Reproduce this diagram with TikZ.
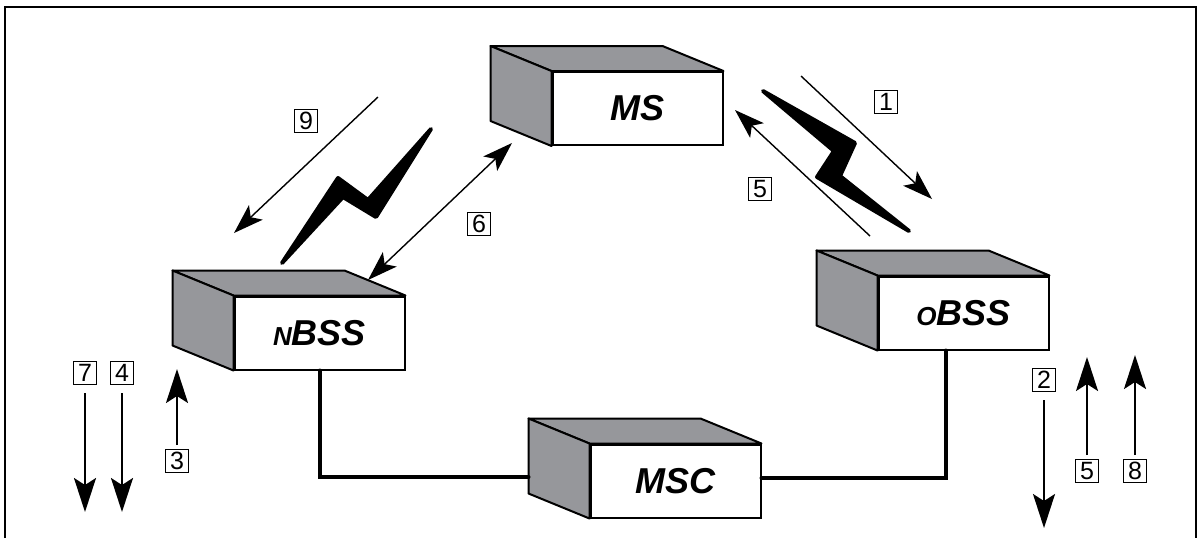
\documentclass[tikz,border=0pt]{standalone}
\usepackage{fontspec}
\setmainfont{Liberation Sans}
\usetikzlibrary{arrows.meta}
\definecolor{casegray}{RGB}{150,151,155}

\begin{document}
\begin{tikzpicture}[
      x=0.5pt, y=-0.5pt,
      unit/.style={draw, fill=white, line width=1pt, minimum width=85pt,
                   minimum height=36.5pt, inner sep=0pt,
                   font=\fontsize{18}{18}\selectfont\bfseries\itshape},
      face/.style={draw, fill=casegray, line width=1pt, line join=round},
      tag/.style={draw, line width=0.5pt, minimum size=11.5pt, inner sep=0pt,
                  font=\fontsize{12.5}{12.5}\selectfont},
      link/.style={line width=2pt, line cap=round},
      flow/.style={-{Stealth[length=17pt, width=11pt, inset=3.5pt]}, line width=1.1pt},
      sig/.style={-{Stealth[length=15pt, width=10pt, inset=3.5pt]}, line width=0.7pt},
      bolt/.style={draw, fill, line width=2pt, line join=round},
    ]
      \useasboundingbox (0,0) rectangle (1199,538);
      \draw[line width=1.2pt] (5,538) -- (5,7) -- (1196,7) -- (1196,538);

      % Units
      \node[unit] (ms)   at (637.5,108.5) {MS\hspace{16pt}};
      \node[unit] (nbss) at (319.5,333)
            {{\fontsize{13}{13}\selectfont N}BSS};
      \node[unit] (obss) at (963.5,313)
            {{\fontsize{13}{13}\selectfont O}BSS};
      \node[unit] (msc)  at (675.5,481) {MSC\hspace{10pt}};

      % Top and side faces
      \foreach \u in {ms,nbss,obss,msc}{
        \filldraw[face] (\u.north west) -- (\u.north east) -- ++(-61,-25)
              -- ([shift={(-61,-25)}]\u.north west) -- cycle;
        \filldraw[face] (\u.north west) -- (\u.south west) -- ++(-61,-25)
              -- ([shift={(-61,-25)}]\u.north west) -- cycle;
      }

      % Wired links
      \draw[link] (nbss.south) |- ([xshift=-30.5pt, yshift=2pt]msc.west);
      \draw[link] ([yshift=1.5pt]msc.east) -| ([xshift=-9pt]obss.south);

      % Radio links
      \filldraw[bolt] (431,129) -- (376,217) -- (343,197) -- (282,263)
            -- (338,178) -- (368,200) -- cycle;
      \filldraw[bolt] (763,91) -- (855,143) -- (840,176) -- (909,231)
            -- (817,177) -- (834,151) -- cycle;

      % Step tags
      \node[tag] (t1)  at (886,102)  {1};
      \node[tag] (t2)  at (1044,380) {2};
      \node[tag] (t3)  at (177,461)  {3};
      \node[tag] (t4)  at (122,373)  {4};
      \node[tag] (t5a) at (760,189)  {5};
      \node[tag] (t5b) at (1087,471) {5};
      \node[tag] (t6)  at (479,224)  {6};
      \node[tag] (t7)  at (85,373)   {7};
      \node[tag] (t8)  at (1135,471) {8};
      \node[tag] (t9)  at (306,121)  {9};

      % Arrow ends
      \coordinate (s1) at (801,76);   \coordinate (e1) at (932,199);
      \coordinate (s5) at (870,236);  \coordinate (e5) at (735,110);
      \coordinate (s9) at (378,97);   \coordinate (e9) at (234,233);
      \coordinate (s6) at (368,280);  \coordinate (e6) at (512,143);
      \coordinate (e7) at (85,512);   \coordinate (e4) at (122,512);
      \coordinate (e3) at (177,369);  \coordinate (e2) at (1044,528);
      \coordinate (u5) at (1087,357); \coordinate (e8) at (1135,355);

      % Arrows
      \draw[sig] (s1) -- (e1);
      \draw[sig] (s5) -- (e5);
      \draw[sig] (s9) -- (e9);
      \draw[sig, {Stealth[length=15pt, width=10pt, inset=3.5pt]}-{Stealth[length=15pt, width=10pt, inset=3.5pt]}]
            (s6) -- (e6);
      \draw[flow, shorten <=4pt] (t7) -- (e7);
      \draw[flow, shorten <=4pt] (t4) -- (e4);
      \draw[flow, shorten <=2pt] (t3) -- (e3);
      \draw[flow, shorten <=4pt] (t2) -- (e2);
      \draw[flow, shorten <=2pt] (t5b) -- (u5);
      \draw[flow, shorten <=2pt] (t8) -- (e8);
    \end{tikzpicture}
\end{document}
